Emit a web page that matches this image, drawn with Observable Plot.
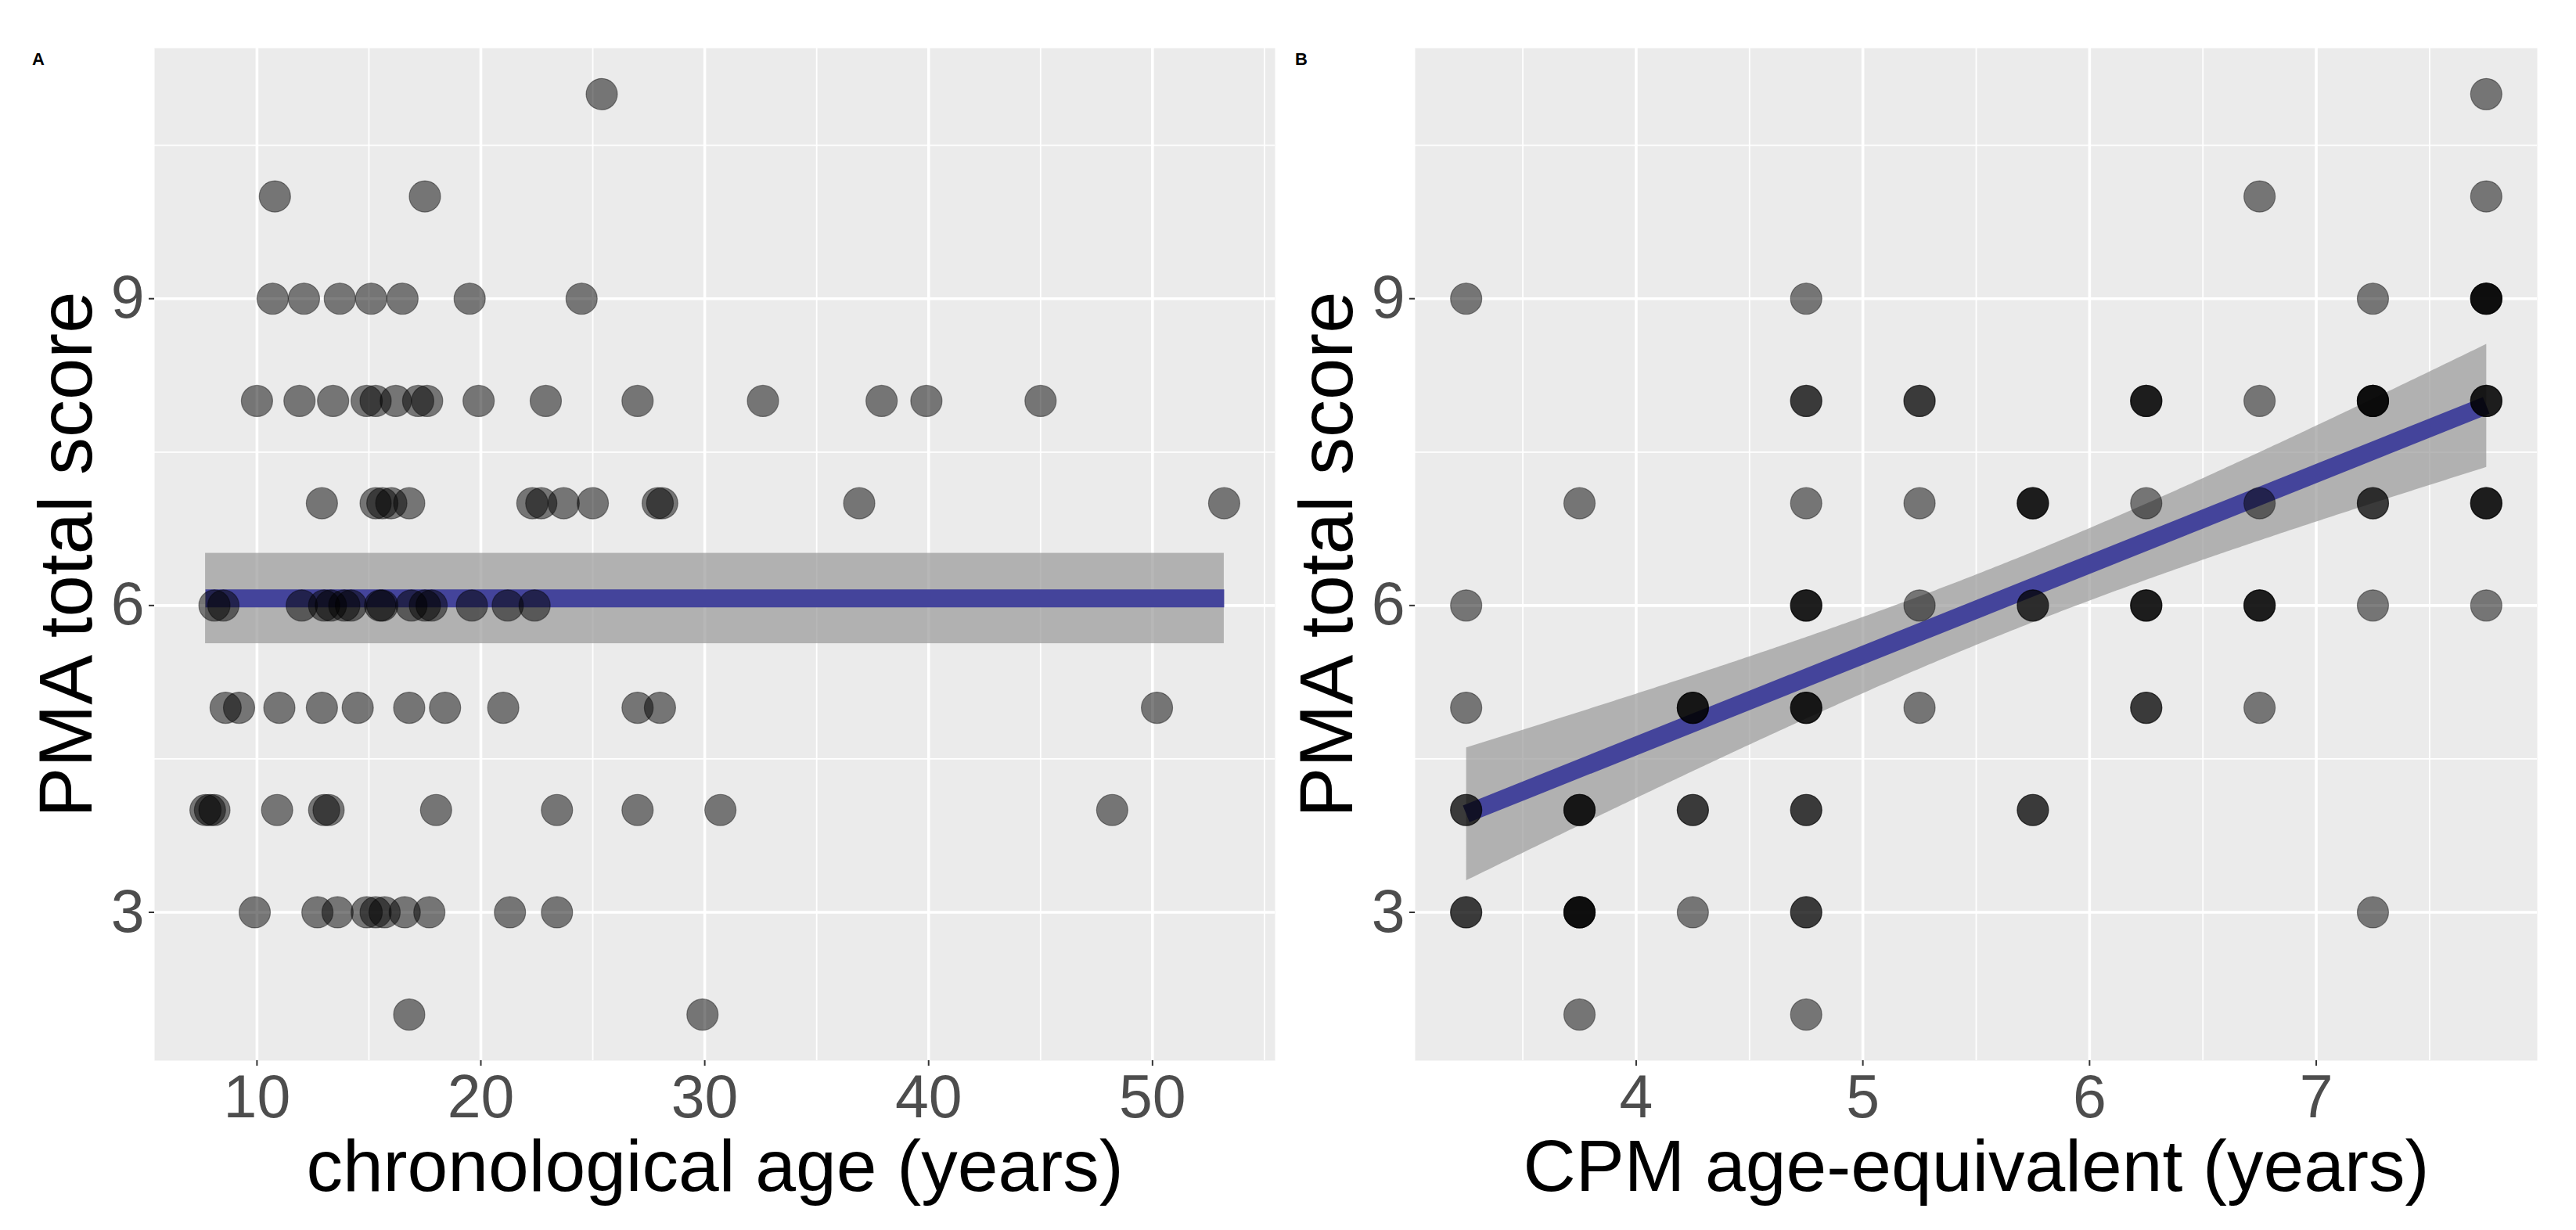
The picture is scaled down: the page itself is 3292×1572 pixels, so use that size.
<!DOCTYPE html>
<html><head><meta charset="utf-8">
<script src="https://cdn.jsdelivr.net/npm/d3@7"></script>
<script src="https://cdn.jsdelivr.net/npm/@observablehq/plot@0.6"></script>
<style>
html,body{margin:0;padding:0;background:#fff;}
#wrap{position:relative;width:3292px;height:1572px;overflow:hidden;font-family:"Liberation Sans",Arial,sans-serif;}
.panel{position:absolute;top:0;}
.tag{position:absolute;top:65px;font-weight:bold;font-size:22px;line-height:1;font-family:"Liberation Sans",Arial,sans-serif;}
</style></head><body>
<div id="wrap">
<div class="panel" id="pa" style="left:0px"></div>
<div class="panel" id="pb" style="left:1646px"></div>
<div class="tag" style="left:41px">A</div>
<div class="tag" style="left:1655px">B</div>
</div>
<script>
// ---- Panel A data: chronological age (years) vs PMA total score ----
const ageA = [
  25.4,
  10.8, 17.5,
  10.7, 12.1, 13.7, 15.1, 16.5, 19.5, 24.5,
  10.0, 11.9, 13.4, 14.9, 15.3, 16.2, 17.2, 17.6, 19.9, 22.9, 27.0, 32.6, 37.9, 39.9, 45.0,
  12.9, 15.3, 15.6, 16.0, 16.8, 22.3, 22.7, 23.7, 25.0, 27.9, 28.1, 36.9, 53.2,
  8.1, 8.5, 12.0, 13.0, 13.3, 13.9, 14.2, 15.5, 15.6, 16.9, 17.5, 17.8, 19.6, 21.2, 22.4,
  8.6, 9.2, 11.0, 12.9, 14.5, 16.8, 18.4, 21.0, 27.0, 28.0, 50.2,
  7.7, 7.9, 8.1, 10.9, 13.0, 13.2, 18.0, 23.4, 27.0, 30.7, 48.2,
  9.9, 12.7, 13.6, 14.9, 15.3, 15.7, 16.6, 17.7, 21.3, 23.4,
  16.8, 29.9
];
const pmaA = [
  11,
  10, 10,
  9, 9, 9, 9, 9, 9, 9,
  8, 8, 8, 8, 8, 8, 8, 8, 8, 8, 8, 8, 8, 8, 8,
  7, 7, 7, 7, 7, 7, 7, 7, 7, 7, 7, 7, 7,
  6, 6, 6, 6, 6, 6, 6, 6, 6, 6, 6, 6, 6, 6, 6,
  5, 5, 5, 5, 5, 5, 5, 5, 5, 5, 5,
  4, 4, 4, 4, 4, 4, 4, 4, 4, 4, 4,
  3, 3, 3, 3, 3, 3, 3, 3, 3, 3,
  2, 2
];

// ---- Panel B data: CPM age-equivalent (years), PMA total score, number of coincident subjects ----
const cpmB = [7.75, 6.75, 7.75, 3.25, 4.75, 7.25, 7.75, 4.75, 5.25, 6.25, 6.75, 7.25, 7.75,
  3.75, 4.75, 5.25, 5.75, 6.25, 6.75, 7.25, 7.75,
  3.25, 4.75, 5.25, 5.75, 6.25, 6.75, 7.25, 7.75,
  3.25, 4.25, 4.75, 5.25, 6.25, 6.75,
  3.25, 3.75, 4.25, 4.75, 5.75,
  3.25, 3.75, 4.25, 4.75, 7.25,
  3.75, 4.75];
const pmaB = [11, 10, 10, 9, 9, 9, 9, 8, 8, 8, 8, 8, 8,
  7, 7, 7, 7, 7, 7, 7, 7,
  6, 6, 6, 6, 6, 6, 6, 6,
  5, 5, 5, 5, 5, 5,
  4, 4, 4, 4, 4,
  3, 3, 3, 3, 3,
  2, 2];
const nB = [1, 1, 1, 1, 1, 1, 4, 2, 2, 3, 1, 4, 3,
  1, 1, 1, 3, 1, 1, 2, 3,
  1, 3, 1, 2, 3, 3, 1, 1,
  1, 3, 3, 1, 2, 1,
  2, 3, 2, 2, 2,
  2, 4, 1, 2, 1,
  1, 1];

// ---- ticks and labels ----
const xTicksA = [10, 20, 30, 40, 50];
const xTicksB = [4, 5, 6, 7];
const yTicks = [3, 6, 9];
const xTitleA = "chronological age (years)";
const xTitleB = "CPM age-equivalent (years)";
const yTitle = "PMA total score";

const dataA = ageA.map((x, i) => ({x, y: pmaA[i]}));
const dataB = cpmB.flatMap((x, i) => d3.range(nB[i]).map(() => ({x, y: pmaB[i]})));

function expand(ext, f = 0.05) { const d = (ext[1] - ext[0]) * f; return [ext[0] - d, ext[1] + d]; }
function minor(ticks, domain) {
  const step = ticks[1] - ticks[0], out = [];
  for (let v = ticks[0] - step / 2 - step * 3; v <= domain[1]; v += step) if (v >= domain[0]) out.push(v);
  return out;
}
function tq(df) { const z = 1.959964; return z + (z ** 3 + z) / (4 * df) + (5 * z ** 5 + 16 * z ** 3 + 3 * z) / (96 * df * df); }

const BLUE = "#44449b";
const BAND = "#999999";
const fmt = d => String(d);

function panel({data, xTicks, xTitle, marginLeft, marginRight, fitMarks}) {
  const xd = expand(d3.extent(data, d => d.x));
  const yd = expand(d3.extent(data, d => d.y));
  return Plot.plot({
    width: 1646, height: 1572,
    marginLeft, marginRight, marginTop: 61, marginBottom: 217,
    x: {domain: xd}, y: {domain: yd},
    style: {background: "transparent", fontFamily: "'Liberation Sans', Arial, sans-serif", overflow: "visible"},
    marks: [
      Plot.frame({fill: "#EBEBEB", stroke: "none"}),
      Plot.gridX(minor(xTicks, xd), {stroke: "#ffffff", strokeOpacity: 1, strokeWidth: 1.8}),
      Plot.gridY(minor(yTicks, yd), {stroke: "#ffffff", strokeOpacity: 1, strokeWidth: 1.8}),
      Plot.gridX(xTicks, {stroke: "#ffffff", strokeOpacity: 1, strokeWidth: 3.6}),
      Plot.gridY(yTicks, {stroke: "#ffffff", strokeOpacity: 1, strokeWidth: 3.6}),
      ...fitMarks(xd),
      Plot.dot(data, {x: "x", y: "y", r: 20, fill: "#000", fillOpacity: 0.5, stroke: "#000", strokeOpacity: 0.4, strokeWidth: 1.2}),
      Plot.axisX(xTicks, {tickSize: 7, tickPadding: 11, fontSize: 77, fill: "#4D4D4D", stroke: "#333333", strokeWidth: 2, label: null, tickFormat: fmt}),
      Plot.axisY(yTicks, {tickSize: 7, tickPadding: 6, fontSize: 77, fill: "#4D4D4D", stroke: "#333333", strokeWidth: 2, label: null, tickFormat: fmt}),
      Plot.text([xTitle], {text: d => d, frameAnchor: "bottom", dy: 166, lineAnchor: "bottom", textAnchor: "middle", fontSize: 93, fill: "#000"}),
      Plot.text([yTitle], {text: d => d, frameAnchor: "left", dx: -81, rotate: -90, lineAnchor: "bottom", textAnchor: "middle", fontSize: 96, fill: "#000"})
    ]
  });
}

// Panel A: constant fit (mean with 95% CI)
const fitA = () => {
  const m = d3.mean(pmaA), s = d3.deviation(pmaA), n = pmaA.length;
  const half = tq(n - 1) * s / Math.sqrt(n);
  const [x0, x1] = d3.extent(ageA);
  return [
    Plot.rect([{a: x0, b: x1, lo: m - half, hi: m + half}], {x1: "a", x2: "b", y1: "lo", y2: "hi", fill: BAND, fillOpacity: 0.7}),
    Plot.line([{x: x0, y: m}, {x: x1, y: m}], {x: "x", y: "y", stroke: BLUE, strokeWidth: 23, strokeLinecap: "butt"})
  ];
};
// Panel B: linear regression with 95% CI
const fitB = () => [
  Plot.linearRegressionY(dataB, {x: "x", y: "y", stroke: BLUE, strokeWidth: 23, strokeLinecap: "butt", fill: BAND, fillOpacity: 0.7, ci: 0.95})
];

document.getElementById("pa").append(panel({data: dataA, xTicks: xTicksA, xTitle: xTitleA, marginLeft: 197, marginRight: 17, fitMarks: fitA}));
document.getElementById("pb").append(panel({data: dataB, xTicks: xTicksB, xTitle: xTitleB, marginLeft: 162, marginRight: 50, fitMarks: fitB}));
</script>
</body></html>
